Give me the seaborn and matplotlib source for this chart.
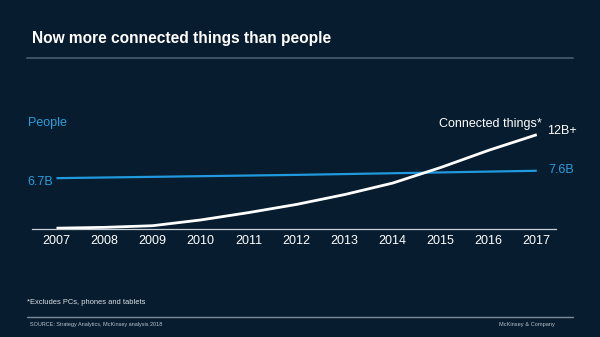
import matplotlib
matplotlib.use("Agg")
import matplotlib.pyplot as plt
from matplotlib.lines import Line2D
import pandas as pd
import seaborn as sns

# Values in billions
years = [2007, 2008, 2009, 2010, 2011, 2012, 2013, 2014, 2015, 2016, 2017]
people = [6.7, 6.78, 6.86, 6.94, 7.02, 7.1, 7.2, 7.3, 7.4, 7.5, 7.6]
connected_things = [0.6, 0.7, 0.9, 1.6, 2.5, 3.5, 4.7, 6.1, 8.0, 10.1, 12.0]
tick_labels = [str(y) for y in years]

BG = "#071c2e"
BLUE = "#2299de"
BLUE_TEXT = "#2a9fdc"
W, H = 600, 337

sns.set_theme(style="white")
plt.rcParams["font.family"] = ["Liberation Sans", "DejaVu Sans"]

df = pd.DataFrame({"year": years, "people": people, "things": connected_things})

fig = plt.figure(figsize=(W / 100, H / 100), dpi=100, facecolor=BG)


def px(x, y):
    return x / W, 1 - y / H


# plot area: baseline at y=229 px, from x=32 to x=556 px
ax = fig.add_axes([32 / W, (H - 229) / H, 524 / W, 129 / H])
ax.set_facecolor(BG)

sns.lineplot(data=df, x="year", y="people", ax=ax, color=BLUE, linewidth=1.6,
             solid_capstyle="butt")
sns.lineplot(data=df, x="year", y="things", ax=ax, color="white", linewidth=2.0,
             solid_capstyle="butt")

ax.set_xlim(2006.49, 2017.40)
ax.set_ylim(0.5, 16.23)
ax.set_xticks(years)
ax.set_xticklabels(tick_labels)
ax.set_yticks([])
ax.set_xlabel("")
ax.set_ylabel("")
ax.tick_params(axis="x", length=0, pad=4.5, labelsize=9, labelcolor="white")
for side in ["top", "left", "right"]:
    ax.spines[side].set_visible(False)
ax.spines["bottom"].set_color("#c9d0d6")
ax.spines["bottom"].set_linewidth(0.9)

# title and rules
fig.text(*px(32.5, 42.7), "Now more connected things than people", color="white",
         fontsize=11.2, fontweight="bold", va="baseline", ha="left")
fig.add_artist(Line2D([27 / W, 573 / W], [1 - 58.3 / H] * 2, color="#3e5467",
                      linewidth=1.4, transform=fig.transFigure))
fig.add_artist(Line2D([27 / W, 573 / W], [1 - 316.7 / H] * 2, color="#7d8c99",
                      linewidth=1.0, transform=fig.transFigure))

# series labels
fig.text(*px(28, 126), "People", color=BLUE_TEXT, fontsize=9, va="baseline", ha="left")
fig.text(*px(27, 185), "6.7B", color=BLUE_TEXT, fontsize=9, va="baseline", ha="left")
fig.text(*px(548, 173.3), "7.6B", color=BLUE_TEXT, fontsize=9, va="baseline", ha="left")
fig.text(*px(542, 126.5), "Connected things*", color="white", fontsize=9,
         va="baseline", ha="right")
fig.text(*px(547, 134.3), "12B+", color="white", fontsize=9, va="baseline", ha="left")

# footnotes
fig.text(*px(27, 304), "*Excludes PCs, phones and tablets", color="#dde2e7",
         fontsize=5.4, va="baseline", ha="left")
fig.text(*px(30.5, 326), "SOURCE: Strategy Analytics, McKinsey analysis 2018",
         color="#b9c3cc", fontsize=4.0, va="baseline", ha="left")
fig.text(*px(555, 326), "McKinsey & Company", color="#b9c3cc", fontsize=4.1,
         va="baseline", ha="right")

fig.savefig("out.png", dpi=100, facecolor=BG)
